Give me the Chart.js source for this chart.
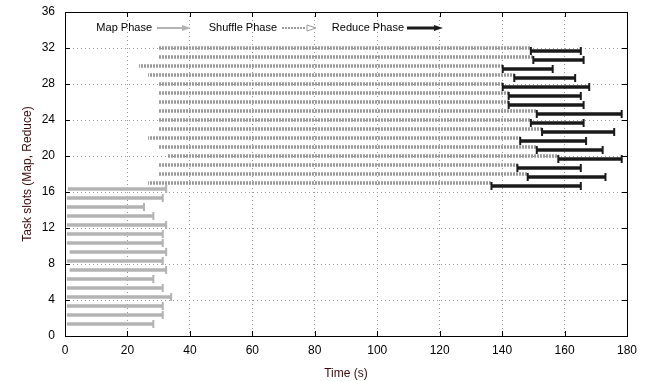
<!DOCTYPE html>
<html>
<head>
<meta charset="utf-8">
<script src="https://cdn.jsdelivr.net/npm/chart.js@4/dist/chart.umd.min.js"></script>
<style>
  html, body { margin: 0; padding: 0; background: #fff; }
  #wrap { width: 653px; height: 381px; }
</style>
</head>
<body>
<div id="wrap"><canvas id="Chart"></canvas></div>
<script>
// task slots, 1..16 are map slots, 17..32 are reduce slots
const mapSlots = [1, 2, 3, 4, 5, 6, 7, 8, 9, 10, 11, 12, 13, 14, 15, 16];
const mapStart = [0.7, 0.7, 0.7, 0.7, 0.7, 0.7, 1.6, 0.7, 1.6, 0.7, 0.7, 0.7, 0.7, 0.7, 0.7, 1.0];
const mapEnd = [28.3, 31.3, 31.3, 34.0, 31.3, 28.3, 32.4, 31.3, 32.4, 31.3, 31.3, 32.4, 28.3, 25.3, 31.3, 32.4];

const reduceSlots = [17, 18, 19, 20, 21, 22, 23, 24, 25, 26, 27, 28, 29, 30, 31, 32];
const shuffleStart = [26.7, 29.9, 29.9, 32.8, 29.9, 26.7, 29.9, 29.9, 29.9, 29.9, 29.9, 29.9, 26.7, 23.8, 29.9, 29.9];
const reduceStart = [136.6, 148.2, 144.9, 158.0, 151.1, 145.8, 152.8, 149.2, 151.1, 142.1, 142.1, 140.2, 143.9, 140.2, 150.0, 149.2];
const reduceEnd = [165.2, 173.1, 165.2, 178.3, 172.2, 166.9, 175.9, 166.1, 178.3, 166.1, 165.2, 167.9, 163.4, 156.2, 166.1, 165.2];

const xTicks = [0, 20, 40, 60, 80, 100, 120, 140, 160, 180];
const yTicks = [0, 4, 8, 12, 16, 20, 24, 28, 32, 36];

const mapColor = '#b3b3b3';
const shuffleColor = '#9a9a9a';
const reduceColor = '#1a1a1a';
const titleColor = '#3c0a0a';
const font = "'Liberation Sans', Arial, sans-serif";

const ctx = document.getElementById('Chart').getContext('2d');

// dotted fill for the shuffle bars
function dotPattern() {
    const c = document.createElement('canvas');
    c.width = 3; c.height = 3;
    const g = c.getContext('2d');
    g.fillStyle = shuffleColor;
    g.fillRect(0, 0, 2, 3);
    return ctx.createPattern(c, 'repeat');
}

const mapData = mapSlots.map((s, i) => ({ y: s, x: [mapStart[i], mapEnd[i]] }));
const shuffleData = reduceSlots.map((s, i) => ({ y: s, x: [shuffleStart[i], reduceStart[i]] }));
const reduceData = reduceSlots.map((s, i) => ({ y: s, x: [reduceStart[i], reduceEnd[i]] }));

// vertical end marks on bars (gnuplot style heads)
const endMarks = {
    id: 'endMarks',
    afterDatasetsDraw(chart) {
        const c = chart.ctx;
        c.save();
        chart.data.datasets.forEach((ds, di) => {
            if (!ds.marks) return;
            const meta = chart.getDatasetMeta(di);
            c.strokeStyle = ds.markColor;
            c.lineWidth = 2;
            meta.data.forEach(el => {
                const ends = ds.marks === 'both' ? [el.base, el.x] : [el.x];
                ends.forEach(px => {
                    c.beginPath();
                    c.moveTo(px, el.y - 4);
                    c.lineTo(px, el.y + 4);
                    c.stroke();
                });
            });
        });
        c.restore();
    }
};

// frame with inward ticks on all four sides
const frame = {
    id: 'frame',
    afterDraw(chart) {
        const c = chart.ctx;
        const a = chart.chartArea;
        const xs = chart.scales.x, ys = chart.scales.y;
        c.save();
        c.strokeStyle = '#000';
        c.lineWidth = 1;
        c.strokeRect(Math.round(a.left) + 0.5, Math.round(a.top) + 0.5,
            Math.round(a.right - a.left), Math.round(a.bottom - a.top));
        c.beginPath();
        xTicks.forEach(v => {
            const px = Math.round(xs.getPixelForValue(v)) + 0.5;
            c.moveTo(px, a.bottom); c.lineTo(px, a.bottom - 5);
            c.moveTo(px, a.top); c.lineTo(px, a.top + 5);
        });
        yTicks.forEach(v => {
            const py = Math.round(ys.getPixelForValue(v)) + 0.5;
            c.moveTo(a.left, py); c.lineTo(a.left + 5, py);
            c.moveTo(a.right, py); c.lineTo(a.right - 5, py);
        });
        c.stroke();
        c.restore();
    }
};

function arrowHead(c, x, y, color, filled) {
    c.fillStyle = color;
    c.strokeStyle = color;
    c.beginPath();
    c.moveTo(x, y);
    c.lineTo(x - 9, y - 3);
    c.lineTo(x - 9, y + 3);
    c.closePath();
    if (filled) c.fill(); else { c.lineWidth = 1; c.stroke(); }
}

// legend inside the top of the plot
const legendInside = {
    id: 'legendInside',
    afterDraw(chart) {
        const c = chart.ctx;
        const y = chart.chartArea.top + 16;
        c.save();
        c.font = '11px ' + font;
        c.fillStyle = '#000';
        c.textBaseline = 'middle';
        c.textAlign = 'right';
        c.fillText('Map Phase', 152, y);
        c.fillText('Shuffle Phase', 277, y);
        c.fillText('Reduce Phase', 404, y);

        c.lineWidth = 2;
        c.strokeStyle = mapColor;
        c.beginPath(); c.moveTo(157, y); c.lineTo(184, y); c.stroke();
        arrowHead(c, 191, y, mapColor, true);

        c.strokeStyle = shuffleColor;
        c.setLineDash([2, 1]);
        c.beginPath(); c.moveTo(282, y); c.lineTo(306, y); c.stroke();
        c.setLineDash([]);
        arrowHead(c, 316, y, shuffleColor, false);

        c.lineWidth = 3;
        c.strokeStyle = reduceColor;
        c.beginPath(); c.moveTo(407, y); c.lineTo(434, y); c.stroke();
        arrowHead(c, 443, y, reduceColor, true);
        c.restore();
    }
};

new Chart(ctx, {
    type: 'bar',
    data: {
        datasets: [
            { label: 'Map Phase', data: mapData, backgroundColor: mapColor,
              barThickness: 3, marks: 'end', markColor: mapColor },
            { label: 'Shuffle Phase', data: shuffleData, backgroundColor: dotPattern(),
              barThickness: 3 },
            { label: 'Reduce Phase', data: reduceData, backgroundColor: reduceColor,
              barThickness: 3, marks: 'both', markColor: reduceColor }
        ]
    },
    options: {
        indexAxis: 'y',
        responsive: true,
        maintainAspectRatio: false,
        animation: false,
        layout: { padding: { top: 12, right: 26, left: 0, bottom: 0 } },
        scales: {
            x: {
                type: 'linear',
                min: 0,
                max: 180,
                offset: false,
                afterBuildTicks: s => { s.ticks = xTicks.map(v => ({ value: v })); },
                afterFit: s => { s.height = 45; s.paddingLeft = 0; s.paddingRight = 0; },
                border: { display: false, dash: [1, 3] },
                grid: {
                    drawTicks: false,
                    offset: false,
                    color: '#9a9a9a',
                    lineWidth: 1
                },
                ticks: {
                    padding: 7,
                    color: '#000',
                    font: { family: font, size: 12 },
                    maxRotation: 0
                },
                title: {
                    display: true,
                    text: 'Time (s)',
                    color: titleColor,
                    padding: { top: 8, bottom: 0 },
                    font: { family: font, size: 12 }
                }
            },
            y: {
                type: 'linear',
                min: 0,
                max: 36,
                offset: false,
                afterBuildTicks: s => { s.ticks = yTicks.map(v => ({ value: v })); },
                afterFit: s => { s.width = 65; s.paddingTop = 0; s.paddingBottom = 0; },
                border: { display: false, dash: [1, 3] },
                grid: {
                    drawTicks: false,
                    offset: false,
                    color: '#9a9a9a',
                    lineWidth: 1
                },
                ticks: {
                    padding: 10,
                    color: '#000',
                    font: { family: font, size: 12 }
                },
                title: {
                    display: true,
                    text: 'Task slots (Map, Reduce)',
                    color: titleColor,
                    padding: { top: 20, bottom: 0 },
                    font: { family: font, size: 12 }
                }
            }
        },
        plugins: {
            legend: { display: false },
            tooltip: { enabled: false }
        }
    },
    plugins: [endMarks, frame, legendInside]
});
</script>
</body>
</html>
